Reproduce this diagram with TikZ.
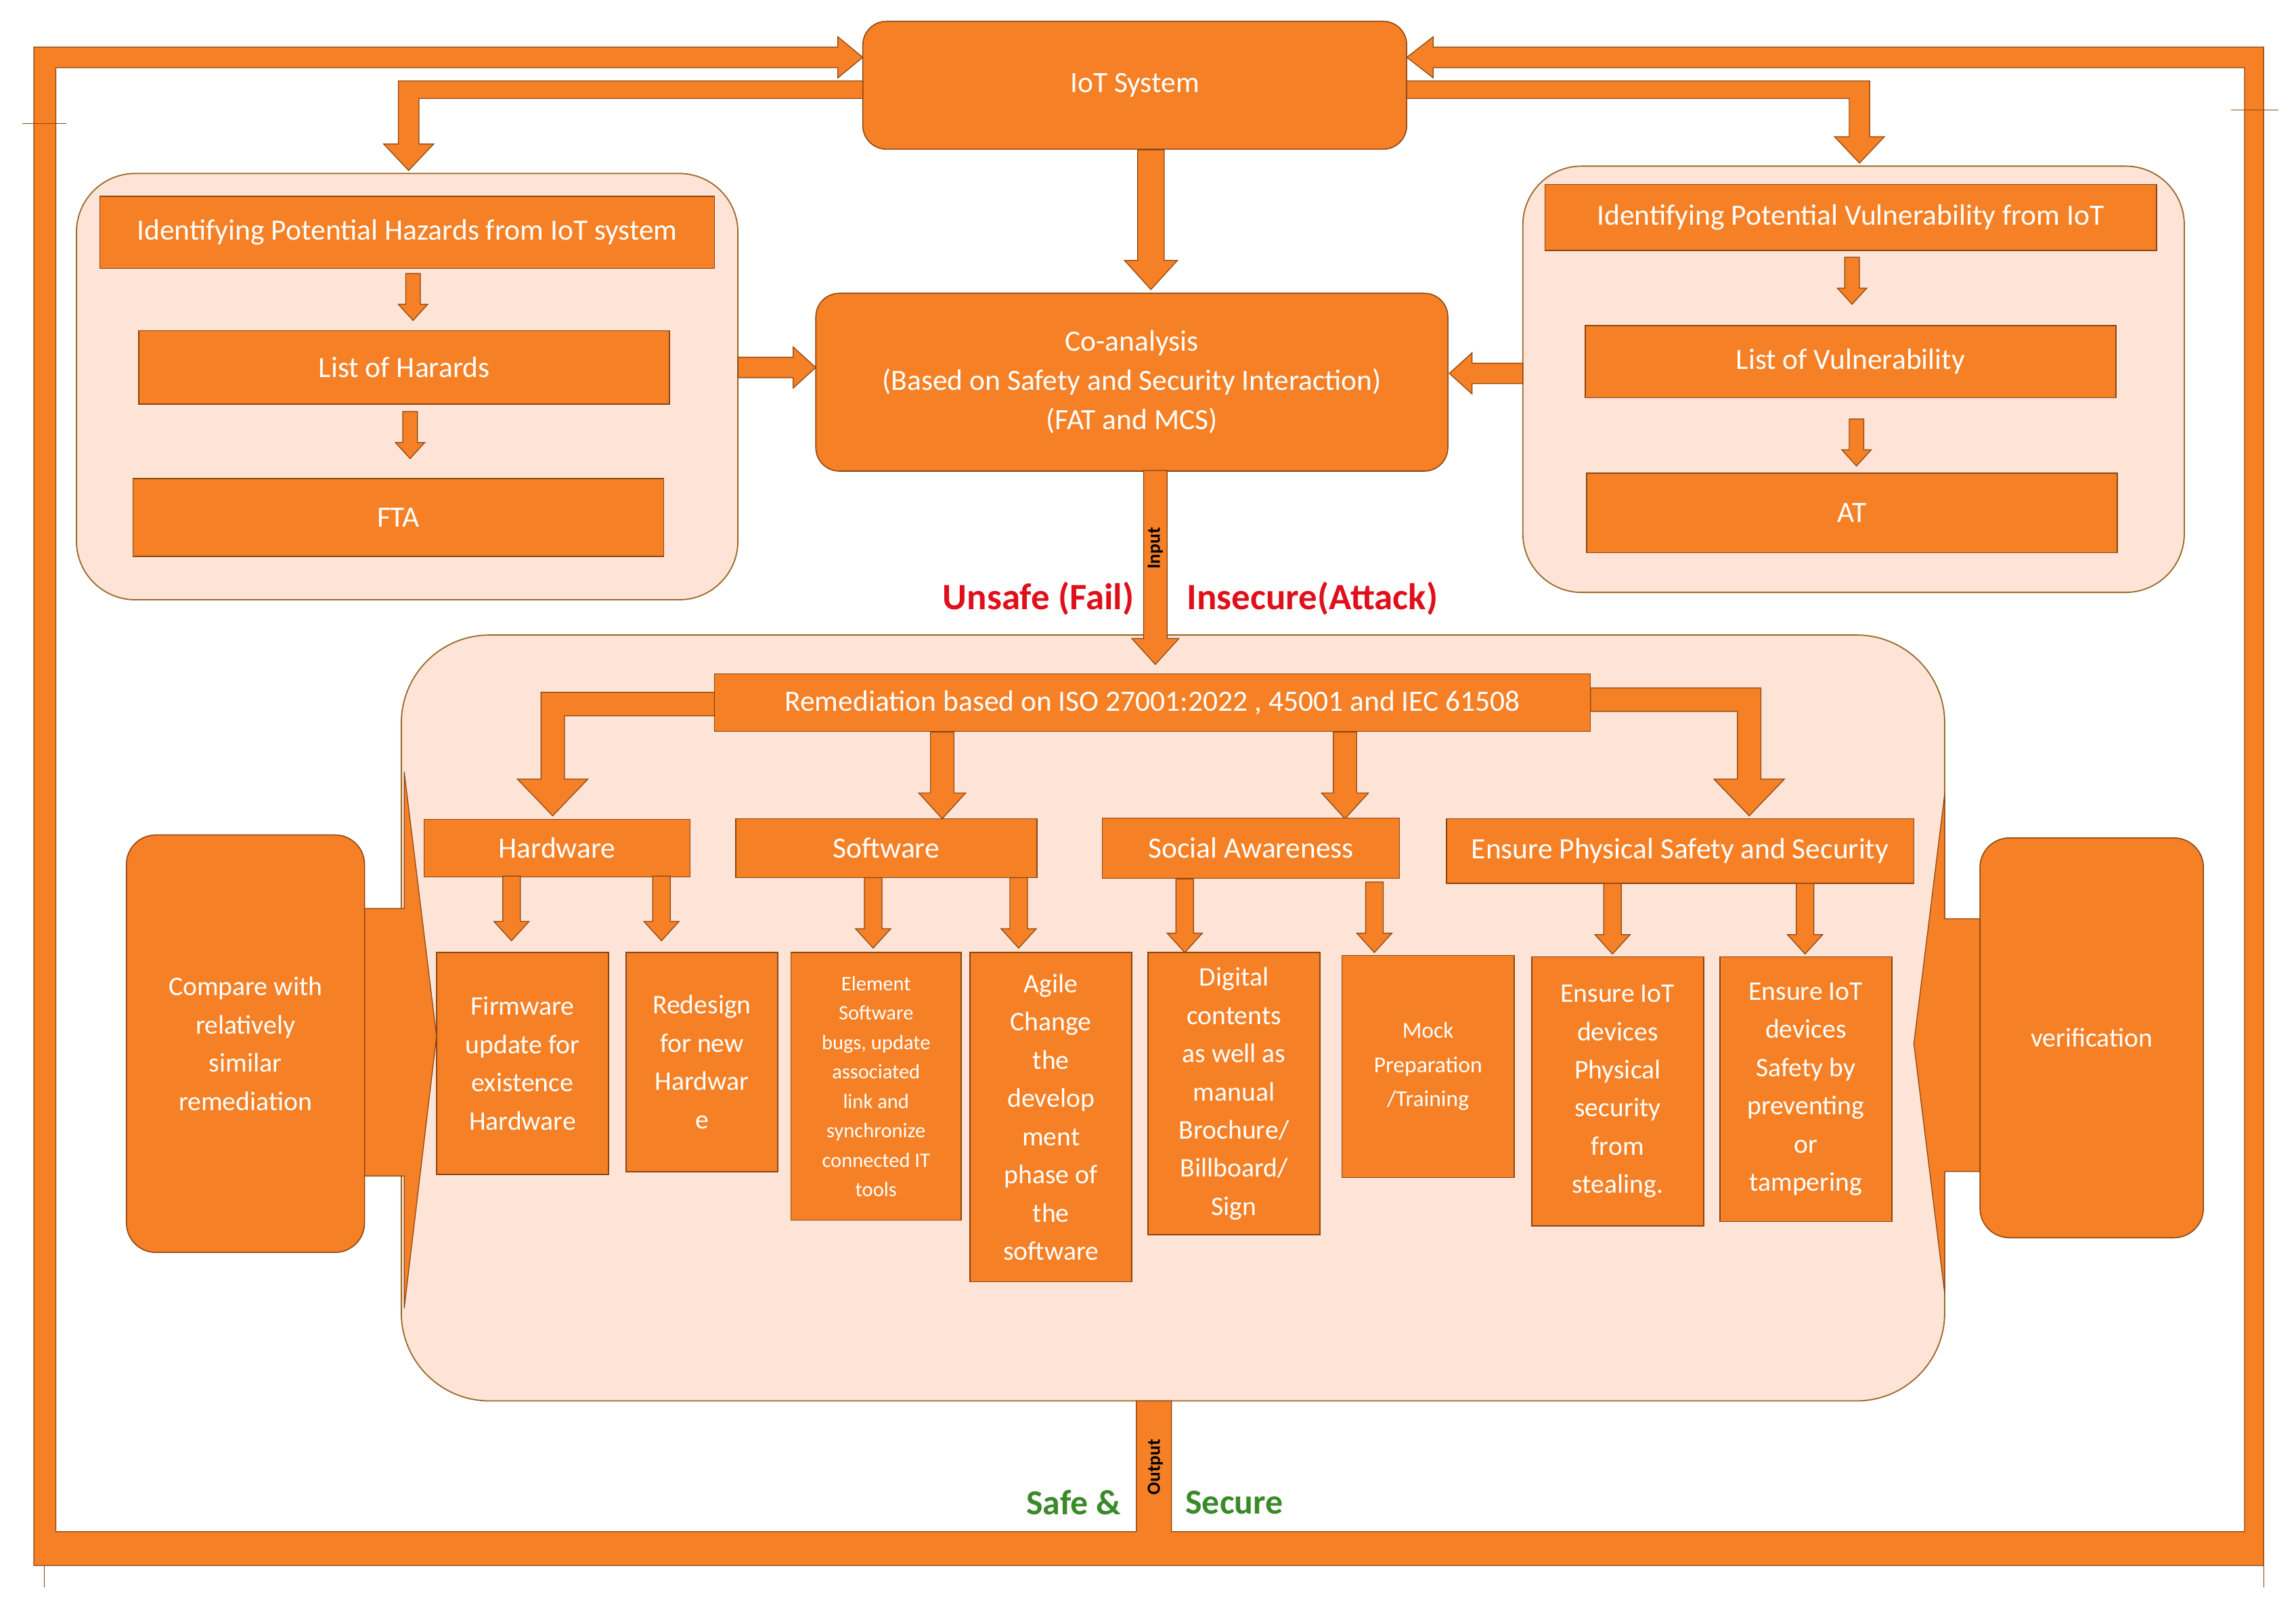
\documentclass[tikz,border=0pt]{standalone}
\usepackage{fontspec}
\setmainfont{Carlito}
\begin{document}
\definecolor{org}{HTML}{F58025}
\definecolor{bdr}{HTML}{8A4512}
\definecolor{pan}{HTML}{FDE4D6}
\definecolor{panb}{HTML}{9A6A2A}
\definecolor{rd}{HTML}{E0101A}
\definecolor{gr}{HTML}{3A8A2A}
\newcommand\dar[4]{\filldraw[ba] (#1-#4,#2) -- (#1+#4,#2) -- (#1+#4,#3-2.2*#4) -- (#1+2*#4,#3-2.2*#4) -- (#1,#3) -- (#1-2*#4,#3-2.2*#4) -- (#1-#4,#3-2.2*#4) -- cycle;}
\newcommand\har[4]{% y, xstart, xend(tip), s
\pgfmathsetmacro\hd{(#3>#2)?1:-1}
\filldraw[ba] (#2,#1-#4) -- (#3-\hd*2.2*#4,#1-#4) -- (#3-\hd*2.2*#4,#1-2*#4) -- (#3,#1) -- (#3-\hd*2.2*#4,#1+2*#4) -- (#3-\hd*2.2*#4,#1+#4) -- (#2,#1+#4) -- cycle;}
\begin{tikzpicture}[x=0.05cm,y=-0.05cm,
 ba/.style={fill=org,draw=bdr,line width=0.8pt,line join=miter},
 bx/.style={draw=bdr,fill=org,line width=1pt,text=white,align=center,inner sep=0pt},
 rb/.style={bx,rounded corners=0.8cm},
 pn/.style={draw=panb,fill=pan,line width=1.2pt,rounded corners=2cm},
 ft/.style={font=\fontsize{28.5}{34}\selectfont},
 lf/.style={font=\fontsize{26}{37}\selectfont}]
\useasboundingbox (0,0) rectangle (1562,1093);
% panels
\filldraw[pn] (52,118) rectangle (502,408);
\filldraw[pn] (1036,113) rectangle (1486,403);
\filldraw[pn,rounded corners=3cm] (273,432) rectangle (1323,953);
% outer loop
\filldraw[ba] (797,953) -- (797,1042) -- (1527,1042) -- (1527,46) -- (975,46) -- (975,53) -- (957,39) -- (975,25) -- (975,32) -- (1540,32) -- (1540,1065) -- (23,1065) -- (23,32) -- (570,32) -- (570,25) -- (587,39) -- (570,53) -- (570,46) -- (38,46) -- (38,1042) -- (773,1042) -- (773,953) -- cycle;
\draw[bdr,line width=0.8pt] (15,84)--(45,84) (1518,75)--(1550,75) (30,1065)--(30,1080) (1540,1065)--(1540,1080);
% top nodes
\node[rb,minimum width=370*0.05cm,minimum height=87*0.05cm,ft] (iot) at (772,58) {IoT System};
\node[rb,minimum width=430*0.05cm,minimum height=121*0.05cm,font=\fontsize{28.5}{38}\selectfont] (co) at (770,260) {Co-analysis\\(Based on Safety and Security Interaction)\\(FAT and MCS)};
% L arrows from IoT
\filldraw[ba] (587,55) -- (271,55) -- (271,98) -- (261,98) -- (278,116) -- (295,98) -- (285,98) -- (285,67) -- (587,67) -- cycle;
\filldraw[ba] (957,55) -- (1272,55) -- (1272,93) -- (1282,93) -- (1265,111) -- (1248,93) -- (1258,93) -- (1258,67) -- (957,67) -- cycle;
\dar{783}{102}{197}{9}
% left panel
\node[bx,minimum width=418*0.05cm,minimum height=49*0.05cm,ft] (lh) at (277,158) {Identifying Potential Hazards from IoT system};
\node[bx,minimum width=361*0.05cm,minimum height=50*0.05cm,ft] (lh2) at (275,250) {List of Harards};
\node[bx,minimum width=361*0.05cm,minimum height=53*0.05cm,ft] (fta) at (271,352) {FTA};
\dar{281}{186}{218}{5}
\dar{279}{280}{312}{5}
% right panel
\node[bx,minimum width=416*0.05cm,minimum height=45*0.05cm,ft] (rv) at (1259,148) {Identifying Potential Vulnerability from IoT};
\node[bx,minimum width=361*0.05cm,minimum height=49*0.05cm,ft] (rv2) at (1259,246) {List of Vulnerability};
\node[bx,minimum width=361*0.05cm,minimum height=54*0.05cm,ft] (at) at (1260,349) {AT};
\dar{1260}{175}{207}{5}
\dar{1263}{285}{317}{5}
\har{250}{502}{555}{7}
\har{254}{1036}{986}{7}
% input
\dar{786}{320}{452}{8}
\node[rotate=90,font=\fontsize{18}{20}\selectfont\bfseries] at (786,373) {Input};
\node[font=\fontsize{36}{40}\selectfont\bfseries,text=rd,anchor=east] at (774,407) {Unsafe (Fail)};
\node[font=\fontsize{36}{40}\selectfont\bfseries,text=rd,anchor=west] at (805,407) {Insecure(Attack)};
% remediation
\node[bx,minimum width=596*0.05cm,minimum height=39*0.05cm,ft] (rem) at (784,478) {Remediation based on ISO 27001:2022 , 45001 and IEC 61508};
\filldraw[ba] (486,471) -- (368,471) -- (368,530) -- (352,530) -- (376,555) -- (400,530) -- (384,530) -- (384,487) -- (486,487) -- cycle;
\filldraw[ba] (1082,468) -- (1198,468) -- (1198,530) -- (1214,530) -- (1190,555) -- (1166,530) -- (1182,530) -- (1182,484) -- (1082,484) -- cycle;
\dar{641}{498}{557}{8}
\dar{915}{498}{557}{8}
% categories
\node[bx,minimum width=181*0.05cm,minimum height=39*0.05cm,ft] (hw) at (379,577) {Hardware};
\node[bx,minimum width=205*0.05cm,minimum height=40*0.05cm,ft] (sw) at (603,577) {Software};
\node[bx,minimum width=202*0.05cm,minimum height=41*0.05cm,ft] (sa) at (851,577) {Social Awareness};
\node[bx,minimum width=318*0.05cm,minimum height=44*0.05cm,ft] (ep) at (1143,579) {Ensure Physical Safety and Security};
\dar{348}{596}{640}{6}\dar{450}{596}{640}{6}
\dar{594}{597}{645}{6}\dar{693}{597}{645}{6}
\dar{806}{598}{648}{6}\dar{935}{600}{648}{6}
\dar{1097}{601}{649}{6}\dar{1228}{601}{649}{6}
% leaves
\node[bx,minimum width=117*0.05cm,minimum height=151*0.05cm,lf] (l1) at (355.5,723.5) {Firmware\\update for\\existence\\Hardware};
\node[bx,minimum width=103*0.05cm,minimum height=149*0.05cm,lf] (l2) at (477.5,722.5) {Redesign\\for new\\Hardwar\\e};
\node[bx,minimum width=116*0.05cm,minimum height=182*0.05cm,font=\fontsize{20}{28.5}\selectfont] (l3) at (596,739) {Element\\Software\\bugs, update\\associated\\link and\\synchronize\\connected IT\\tools};
\node[bx,minimum width=110*0.05cm,minimum height=224*0.05cm,lf] (l4) at (715,760) {Agile\\Change\\the\\develop\\ment\\phase of\\the\\software};
\node[bx,minimum width=117*0.05cm,minimum height=192*0.05cm,lf] (l5) at (839.5,744) {Digital\\contents\\as well as\\manual\\Brochure/\\Billboard/\\Sign};
\node[bx,minimum width=117*0.05cm,minimum height=151*0.05cm,font=\fontsize{22}{33}\selectfont] (l6) at (971.5,725.5) {Mock\\Preparation\\/Training};
\node[bx,minimum width=117*0.05cm,minimum height=183*0.05cm,lf] (l7) at (1100.5,742.5) {Ensure IoT\\devices\\Physical\\security\\from\\stealing.};
\node[bx,minimum width=117*0.05cm,minimum height=180*0.05cm,lf] (l8) at (1228.5,741) {Ensure IoT\\devices\\Safety by\\preventing\\or\\tampering};
% side
\filldraw[ba] (248,618) -- (275,618) -- (275,525) -- (297,705) -- (275,890) -- (275,800) -- (248,800) -- cycle;
\filldraw[ba] (1347,625) -- (1323,625) -- (1323,540) -- (1302,710) -- (1323,880) -- (1323,797) -- (1347,797) -- cycle;
\node[rb,rounded corners=1cm,minimum width=162*0.05cm,minimum height=284*0.05cm,lf] (cmp) at (167,710) {Compare with\\relatively\\similar\\remediation};
\node[rb,rounded corners=1cm,minimum width=152*0.05cm,minimum height=272*0.05cm,lf] (ver) at (1423,706) {verification};
% output
\node[rotate=90,font=\fontsize{18}{20}\selectfont\bfseries] at (786,998) {Output};
\node[font=\fontsize{34}{38}\selectfont\bfseries,text=gr,anchor=east] at (765,1022) {Safe \&};
\node[font=\fontsize{34}{38}\selectfont\bfseries,text=gr,anchor=west] at (804,1022) {Secure};
\end{tikzpicture}
\end{document}
